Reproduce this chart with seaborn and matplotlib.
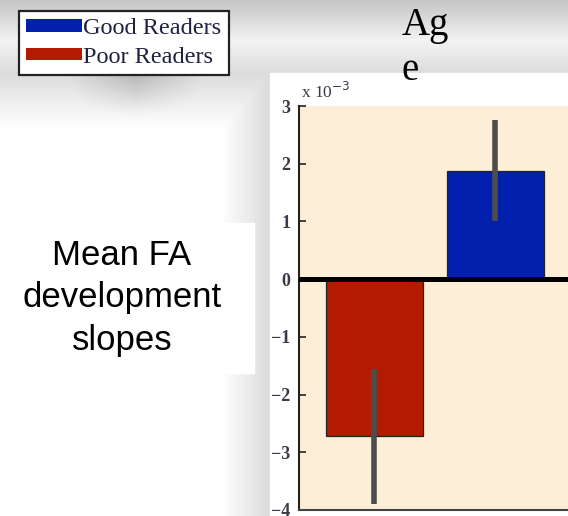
import numpy as np
import pandas as pd
import seaborn as sns
import matplotlib.pyplot as plt
from matplotlib.patches import Patch, Rectangle

# data (slopes in units of 10^-3)
groups = ["Poor Readers", "Good Readers"]
mean_slopes = [-2.72, 1.88]
sem_slopes = [1.17, 0.88]
bar_colors = ["#b31b00", "#0020ad"]
legend_order = ["Good Readers", "Poor Readers"]
yticks = [3, 2, 1, 0, -1, -2, -3, -4]

df = pd.DataFrame({"group": groups, "slope": mean_slopes})

W, H = 568, 516
sns.set_style("white")
plt.rcParams["font.family"] = ["Liberation Serif", "DejaVu Serif"]

fig = plt.figure(figsize=(W / 100, H / 100), dpi=100)

# slide background: grey band on top, shadows round legend and chart panel
bg = fig.add_axes([0, 0, 1, 1], zorder=-10)
yy, xx = np.mgrid[0:H, 0:W]
shade = np.ones((H, W))
top = np.interp(yy, [0, 40, 73, 130], [0.77, 0.95, 0.86, 1.0])
shade = np.minimum(shade, np.where((xx < 270) | (yy < 73), top, 1.0))
side = np.interp(xx, [220, 268], [1.0, 0.86])
shade = np.where((yy >= 73) & (xx < 270), np.minimum(shade, side), shade)
leg_sh = 1 - 0.28 * np.clip(1 - (yy - 76) / 45, 0, 1) * np.clip(1 - np.abs(xx - 135) / 130, 0, 1)
shade = np.where((yy >= 76) & (xx < 270), np.minimum(shade, leg_sh), shade)
bg.imshow(shade, cmap="gray", vmin=0, vmax=1, extent=(0, W, H, 0), aspect="auto")
bg.add_patch(Rectangle((270, 73), W - 270, H - 73, color="white"))
bg.add_patch(Rectangle((0, 223), 254, 150, color="white"))
bg.set_xlim(0, W)
bg.set_ylim(H, 0)
bg.axis("off")

# chart
ax = fig.add_axes([299 / W, 6 / H, 320 / W, 404 / H])
sns.barplot(data=df, x="group", y="slope", hue="group", palette=bar_colors,
            order=groups, hue_order=groups, errorbar=None, width=0.8, saturation=1,
            edgecolor="#222222", linewidth=0.9, legend=False, ax=ax)
ax.errorbar(x=range(len(groups)), y=mean_slopes, yerr=sem_slopes, fmt="none",
            ecolor="#4d4d4d", elinewidth=4, capsize=0, zorder=4)
ax.axhline(0, color="black", lw=3.6, zorder=5)
ax.set_facecolor("#fdefd7")
ax.set_xlim(-0.62, 2.02)
ax.set_ylim(-4, 3)
ax.set_yticks(yticks)
ax.set_yticklabels([str(t).replace("-", "\u2212") for t in yticks])
ax.set_xticks([])
ax.set_xlabel("")
ax.set_ylabel("")
ax.tick_params(axis="y", direction="in", length=5, width=1.2, color="#222222",
               labelsize=13, labelcolor="#3a3a48", pad=6, left=True)
for t in ax.get_yticklabels():
    t.set_fontweight("bold")
for s in ["top", "right"]:
    ax.spines[s].set_visible(False)
ax.spines["left"].set_color("#222222")
ax.spines["left"].set_linewidth(1.5)
ax.spines["bottom"].set_color("#444444")
ax.spines["bottom"].set_linewidth(1.5)
ax.text(0.006, 1.01, "x 10$^{\u22123}$", transform=ax.transAxes, fontsize=12.5,
        color="#3a3a48", ha="left", va="bottom")

# legend
handles = [Patch(facecolor=bar_colors[groups.index(g)], edgecolor="none") for g in legend_order]
leg = fig.legend(handles, legend_order, loc="upper left",
                 bbox_to_anchor=(19 / W, 1 - 11 / H), bbox_transform=fig.transFigure,
                 frameon=True, fancybox=False, framealpha=1, edgecolor="#222222",
                 prop={"family": "Liberation Serif", "size": 17.5},
                 handlelength=2.3, handleheight=0.4, handletextpad=0.05,
                 labelspacing=0.3, borderpad=0.3, borderaxespad=0)
leg.get_frame().set_linewidth(1.6)
for t in leg.get_texts():
    t.set_color("#202040")

# slide text
fig.text(402 / W, 1 - 7 / H, "Ag\ne", fontsize=28, family="Liberation Serif",
         color="black", ha="left", va="top", linespacing=1.27)
fig.text(122 / W, 1 - 298 / H, "Mean FA\ndevelopment\nslopes", fontsize=25,
         family="Liberation Sans", color="black", ha="center", va="center",
         linespacing=1.38)

fig.savefig("out.png", dpi=100)
